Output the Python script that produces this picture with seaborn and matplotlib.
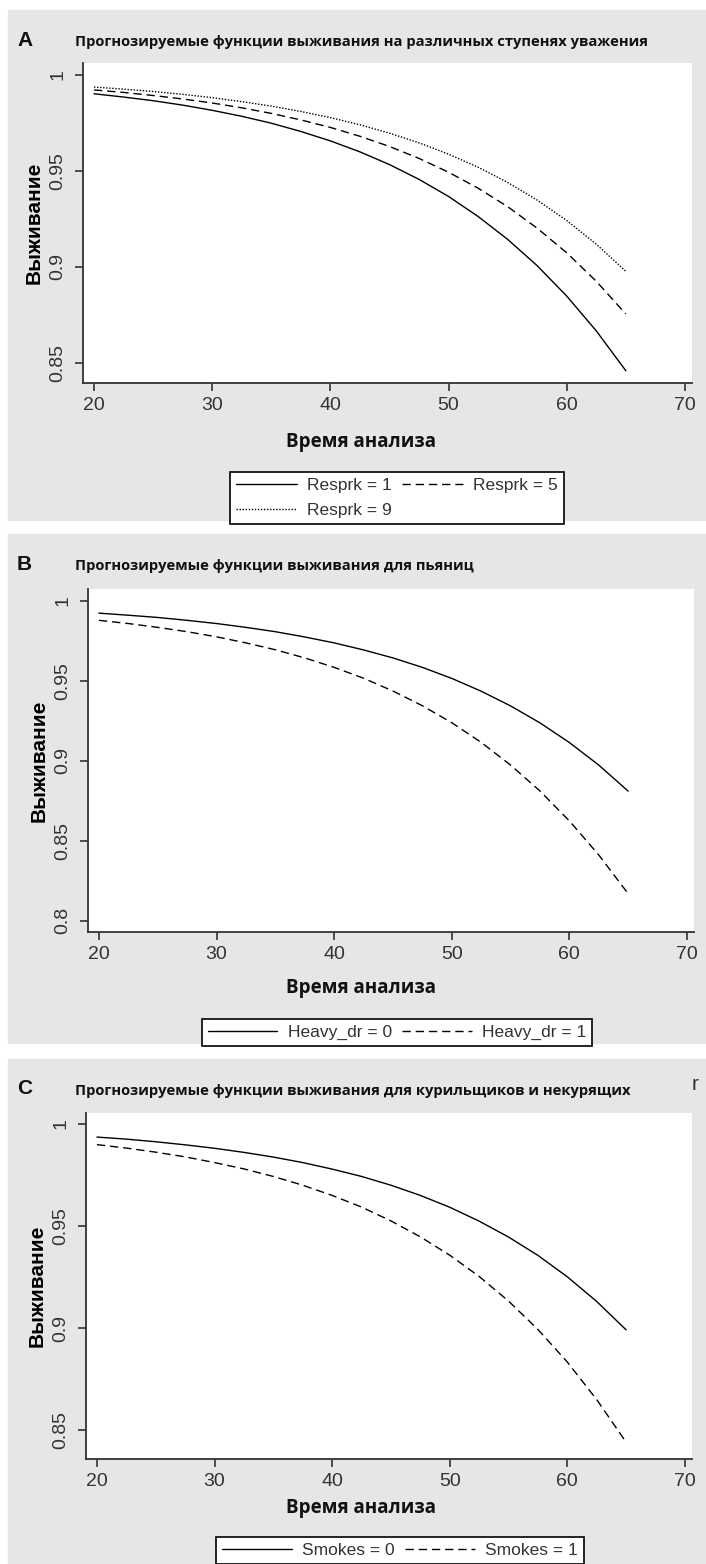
import pandas as pd
import seaborn as sns
import matplotlib.pyplot as plt
from matplotlib.patches import Rectangle
import warnings

warnings.filterwarnings("ignore")

# time points (years) where curves were read
time = [20, 22.5, 25, 27.5, 30, 32.5, 35, 37.5, 40, 42.5, 45, 47.5, 50,
        52.5, 55, 57.5, 60, 62.5, 65]

# panel A - respect rank
resprk_1 = [0.9900, 0.9883, 0.9864, 0.9841, 0.9814, 0.9783, 0.9747, 0.9704, 0.9655, 0.9598,
            0.9532, 0.9455, 0.9366, 0.9262, 0.9143, 0.9006, 0.8848, 0.8667, 0.8460]
resprk_5 = [0.9920, 0.9907, 0.9891, 0.9873, 0.9852, 0.9827, 0.9798, 0.9764, 0.9725, 0.9679,
            0.9626, 0.9564, 0.9492, 0.9409, 0.9313, 0.9201, 0.9073, 0.8925, 0.8755]
resprk_9 = [0.9935, 0.9924, 0.9912, 0.9897, 0.9880, 0.9859, 0.9836, 0.9808, 0.9776, 0.9739,
            0.9695, 0.9645, 0.9586, 0.9518, 0.9439, 0.9347, 0.9241, 0.9118, 0.8977]

# panel B - heavy drinkers
heavy_0 = [0.9924, 0.9911, 0.9897, 0.9879, 0.9859, 0.9835, 0.9808, 0.9775, 0.9738, 0.9694,
           0.9644, 0.9585, 0.9516, 0.9436, 0.9344, 0.9238, 0.9115, 0.8974, 0.8811]
heavy_1 = [0.9879, 0.9859, 0.9835, 0.9808, 0.9776, 0.9738, 0.9695, 0.9644, 0.9585, 0.9517,
           0.9437, 0.9345, 0.9239, 0.9116, 0.8974, 0.8812, 0.8625, 0.8412, 0.8170]

# panel C - smokers
smokes_0 = [0.9936, 0.9926, 0.9913, 0.9898, 0.9881, 0.9861, 0.9838, 0.9811, 0.9779, 0.9743,
            0.9700, 0.9650, 0.9592, 0.9524, 0.9446, 0.9356, 0.9251, 0.9130, 0.8991]
smokes_1 = [0.9899, 0.9882, 0.9862, 0.9839, 0.9811, 0.9780, 0.9743, 0.9700, 0.9650, 0.9593,
            0.9525, 0.9447, 0.9357, 0.9253, 0.9132, 0.8993, 0.8833, 0.8649, 0.8440]

x_ticks = [20, 30, 40, 50, 60, 70]
y_ticks_a = [0.85, 0.9, 0.95, 1]
y_ticks_b = [0.8, 0.85, 0.9, 0.95, 1]
y_ticks_c = [0.85, 0.9, 0.95, 1]

titles = [
    "Прогнозируемые функции выживания на различных ступенях уважения",
    "Прогнозируемые функции выживания для пьяниц",
    "Прогнозируемые функции выживания для курильщиков и некурящих",
]

W, H = 706, 1564
GRAY = "#e6e6e6"
TXT = "#333333"


def fx(px):
    return px / W


def fy(py):
    return 1 - py / H


def long_df(series):
    rows = []
    for name, vals in series.items():
        for t, v in zip(time, vals):
            rows.append({"t": t, "s": v, "grp": name})
    return pd.DataFrame(rows)


def fmt(v):
    return "1" if v == 1 else f"{v:g}"


sns.set_theme(style="white")
plt.rcParams["font.family"] = ["Liberation Sans", "DejaVu Sans"]

fig = plt.figure(figsize=(W / 100, H / 100), dpi=100, facecolor="white")

panels = [
    dict(letter="A", bg=(10, 520), box=(83, 63, 692, 383), yt=y_ticks_a, ylim=(0.8396, 1.006),
         series={"Resprk = 1": resprk_1, "Resprk = 5": resprk_5, "Resprk = 9": resprk_9},
         xlab_y=442, leg=(397, 472), order=[0, 2, 1], hl=3.5),
    dict(letter="B", bg=(534, 1043), box=(88, 589, 694, 932), yt=y_ticks_b, ylim=(0.793, 1.0075),
         series={"Heavy_dr = 0": heavy_0, "Heavy_dr = 1": heavy_1},
         xlab_y=988, leg=(397, 1019), order=[0, 1], hl=4.0),
    dict(letter="C", bg=(1059, 1564), box=(86, 1113, 692, 1459), yt=y_ticks_c, ylim=(0.8358, 1.0054),
         series={"Smokes = 0": smokes_0, "Smokes = 1": smokes_1},
         xlab_y=1508, leg=(400, 1537), order=[0, 1], hl=4.0),
]

dash_styles = ["", (6, 3.5), (1, 1.2)]

for i, p in enumerate(panels):
    top, bot = p["bg"]
    fig.patches.append(Rectangle((fx(8), fy(bot)), fx(706) - fx(8), (bot - top) / H,
                                 transform=fig.transFigure, color=GRAY, zorder=-5))
    l, t, r, b = p["box"]
    ax = fig.add_axes([fx(l), fy(b), fx(r) - fx(l), (b - t) / H])
    ax.set_facecolor("white")

    df = long_df(p["series"])
    names = list(p["series"].keys())
    sns.lineplot(data=df, x="t", y="s", style="grp", style_order=names,
                 dashes={n: d for n, d in zip(names, dash_styles)},
                 color="black", linewidth=1.0, errorbar=None, legend=False, ax=ax)

    ax.set_xlim(19.07, 70.6)
    ax.set_ylim(*p["ylim"])
    ax.set_xticks(x_ticks)
    ax.set_yticks(p["yt"])
    ax.set_yticklabels([fmt(v) for v in p["yt"]], rotation=90, va="center")
    ax.set_xlabel("")
    ax.set_ylabel("Выживание", fontsize=15, fontweight="bold", color="black", labelpad=4)
    for side in ["top", "right"]:
        ax.spines[side].set_visible(False)
    for side in ["left", "bottom"]:
        ax.spines[side].set_color(TXT)
        ax.spines[side].set_linewidth(1.3)
    ax.tick_params(axis="both", which="major", length=6, width=1.2, color=TXT,
                   labelsize=14, labelcolor=TXT, pad=4, left=True, bottom=True)
    ax.tick_params(axis="y", pad=6)

    # panel letter and title
    fig.text(fx(17), fy(top + 30), p["letter"], fontsize=15, fontweight="bold",
             va="center", ha="left", color="#111111")
    fig.text(fx(75), fy(top + 32), titles[i], fontsize=10.6, fontweight="bold",
             family=["Open Sans", "DejaVu Sans"], va="center", ha="left", color="#111111")
    fig.text(fx(361), fy(p["xlab_y"]), "Время анализа", fontsize=13.5, fontweight="bold",
             family=["Open Sans", "DejaVu Sans"], va="center", ha="center", color="#111111")

    lines = ax.get_lines()[: len(names)]
    hs = [lines[k] for k in p["order"]]
    ls = [names[k] for k in p["order"]]
    leg = fig.legend(hs, ls, loc="upper center", bbox_to_anchor=(fx(p["leg"][0]), fy(p["leg"][1])),
                     ncol=2, frameon=True, fancybox=False, framealpha=1, borderaxespad=0,
                     edgecolor="black", facecolor="white", handlelength=p["hl"],
                     columnspacing=0.6, handletextpad=0.6, borderpad=0.35, labelspacing=0.55,
                     prop={"family": ["Liberation Sans Narrow", "Liberation Sans"], "size": 12.5})
    leg.get_frame().set_linewidth(1.2)
    for txt in leg.get_texts():
        txt.set_color(TXT)

# stray glyph at the top right of panel C
fig.text(fx(692), fy(1085), "r", fontsize=15, color="#333333", va="center", ha="left")

fig.savefig("out.png", dpi=100, facecolor="white")
